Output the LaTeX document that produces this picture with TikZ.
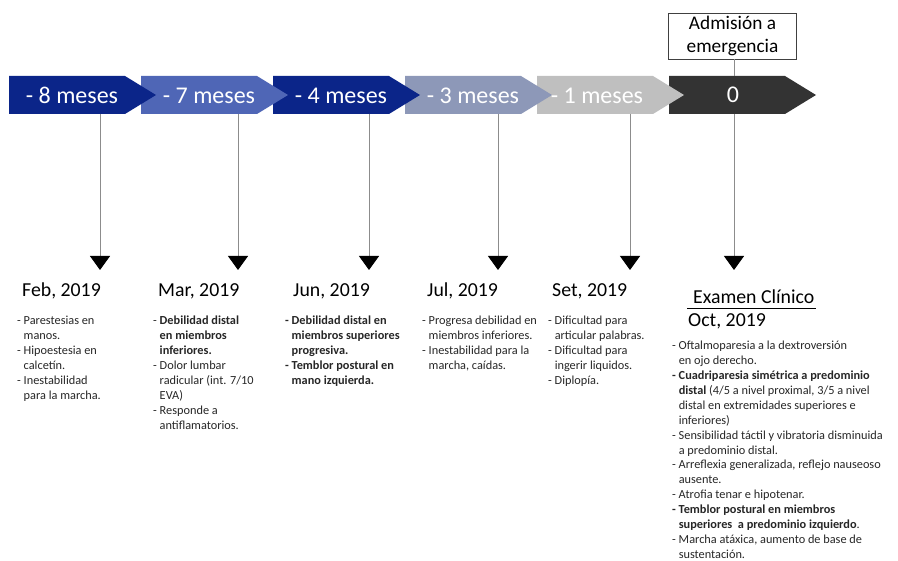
\documentclass[tikz,border=0pt]{standalone}
\usepackage{fontspec}
\setmainfont{Carlito}
\usetikzlibrary{shapes.symbols,arrows.meta}
\definecolor{cnavy}{HTML}{0B2589}
\definecolor{cmid}{HTML}{4F66B6}
\definecolor{cgblue}{HTML}{8D98B8}
\definecolor{clgray}{HTML}{BFBFBF}
\definecolor{cdark}{HTML}{333333}
\definecolor{cline}{HTML}{8C8C8C}
\newcommand\myind{\hphantom{- }}
\newcommand\myindb{\hphantom{\textbf{- }}}
\begin{document}
\begin{tikzpicture}[x=1pt,y=-1pt,
  chev/.style={signal, signal to=east, signal pointer angle=63, minimum width=147pt, minimum height=38pt, inner sep=0pt, outer sep=0pt, draw=none, anchor=west},
  chevtxt/.style={text=white, font=\fontsize{24}{28}\selectfont, anchor=base, inner sep=0pt},
  datetxt/.style={font=\fontsize{19.8}{24}\selectfont, anchor=base west, inner sep=0pt},
  bodytxt/.style={font=\fontsize{12.3}{14.9}\selectfont, align=left, anchor=north west, inner sep=0pt, text=black!85},
  plainline/.style={draw=cline, line width=1pt},
  conn/.style={draw=cline, line width=1pt, -{Triangle[width=20pt,length=14pt,fill=black,color=black]}}
]
\useasboundingbox (0,0) rectangle (898,561);

% free ends of the connectors (arrow tips)
\coordinate (a1) at (100,270);
\coordinate (a2) at (238,270);
\coordinate (a3) at (369,270);
\coordinate (a4) at (498,270);
\coordinate (a5) at (630,270);
\coordinate (a6) at (734,270);

% admission box
\node[draw=black!75, line width=0.8pt, font=\fontsize{19.3}{23}\selectfont, align=center,
      minimum width=128pt, minimum height=46pt, inner sep=0pt] (adm) at (732.5,36) {Admisión a\\emergencia};

% chevrons (drawn right to left so each tip lies over the next one)
\node[chev, fill=cdark]  (c6) at (669,95) {};
\node[chev, fill=clgray] (c5) at (537,95) {};
\node[chev, fill=cgblue] (c4) at (405,95) {};
\node[chev, fill=cnavy]  (c3) at (273,95) {};
\node[chev, fill=cmid]   (c2) at (141,95) {};
\node[chev, fill=cnavy]  (c1) at (9,95) {};

\node[chevtxt] (t1) at (72,104) {- 8 meses};
\node[chevtxt] (t2) at (209,104) {- 7 meses};
\node[chevtxt] (t3) at (341,104) {- 4 meses};
\node[chevtxt] (t4) at (473,104) {- 3 meses};
\node[chevtxt] (t5) at (597,104) {- 1 meses};
\node[chevtxt] (t6) at (733,103) {0};

% connectors
\draw[conn] (a1 |- c1.south) -- (a1);
\draw[conn] (a2 |- c2.south) -- (a2);
\draw[conn] (a3 |- c3.south) -- (a3);
\draw[conn] (a4 |- c4.south) -- (a4);
\draw[conn] (a5 |- c5.south) -- (a5);
\draw[plainline] (adm.south -| a6) -- (a6 |- c6.north);
\draw[conn] (a6 |- c6.south) -- (a6);

% dates
\node[datetxt] (d1) at (22,297) {Feb, 2019};
\node[datetxt] (d2) at (158,297) {Mar, 2019};
\node[datetxt] (d3) at (293,297) {Jun, 2019};
\node[datetxt] (d4) at (427,297) {Jul, 2019};
\node[datetxt] (d5) at (552,297) {Set, 2019};
\node[datetxt] (ex) at (693,304) {Examen Clínico};
\draw[black, line width=0.8pt] ([xshift=-6pt,yshift=-4pt]ex.base west) -- ([xshift=1pt,yshift=-4pt]ex.base east);
\node[datetxt] (d6) at (688,327) {Oct, 2019};

% descriptions
\node[bodytxt] (b1) at (17,316) {- Parestesias en\\\myind manos.\\- Hipoestesia en\\\myind calcetín.\\- Inestabilidad\\\myind para la marcha.};
\node[bodytxt] (b2) at (153,316) {- \textbf{Debilidad distal}\\\myind\textbf{en miembros}\\\myind\textbf{inferiores.}\\- Dolor lumbar\\\myind radicular (int. 7/10\\\myind EVA)\\- Responde a\\\myind antiflamatorios.};
\node[bodytxt, font=\fontsize{12.3}{14.9}\selectfont\bfseries] (b3) at (285,316) {- Debilidad distal en\\\myind miembros superiores\\\myind progresiva.\\- Temblor postural en\\\myind mano izquierda.};
\node[bodytxt] (b4) at (422,316) {- Progresa debilidad en\\\myind miembros inferiores.\\- Inestabilidad para la\\\myind marcha, caídas.};
\node[bodytxt] (b5) at (548,316) {- Dificultad para\\\myind articular palabras.\\- Dificultad para\\\myind ingerir liquidos.\\- Diplopía.};
\node[bodytxt] (b6) at (672,341) {- Oftalmoparesia a la dextroversión\\\myind en ojo derecho.\\\textbf{- Cuadriparesia simétrica a predominio}\\\myindb\textbf{distal} (4/5 a nivel proximal, 3/5 a nivel\\\myindb distal en extremidades superiores e\\\myindb inferiores)\\- Sensibilidad táctil y vibratoria disminuida\\\myind a predominio distal.\\- Arreflexia generalizada, reflejo nauseoso\\\myind ausente.\\- Atrofia tenar e hipotenar.\\\textbf{- Temblor postural en miembros}\\\myindb\textbf{superiores\ \ a predominio izquierdo}.\\- Marcha atáxica, aumento de base de\\\myind sustentación.};
\end{tikzpicture}
\end{document}
